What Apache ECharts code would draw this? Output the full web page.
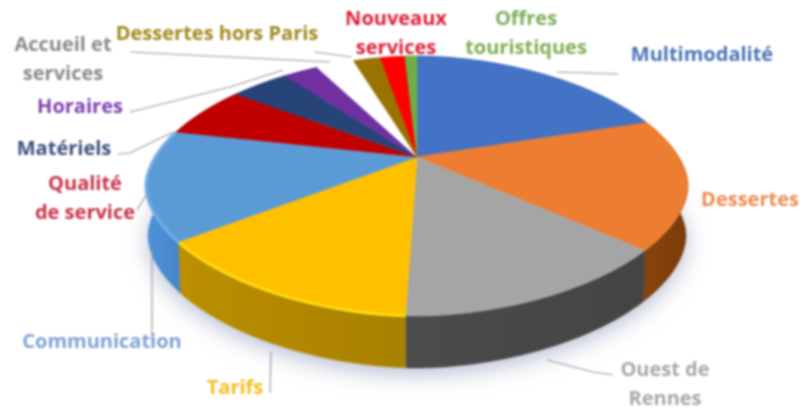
<!DOCTYPE html>
<html>
<head>
<meta charset="utf-8">
<style>
  html, body { margin: 0; padding: 0; background: #fff; }
  /* the reference is a soft, upscaled screenshot */
  #chart { width: 808px; height: 419px; filter: blur(0.8px); }
</style>
<script src="https://cdn.jsdelivr.net/npm/echarts@6/dist/echarts.min.js"></script>
</head>
<body>
<div id="chart"></div>
<script>
// data, clockwise from 12 o'clock
const categories = ['Multimodalité', 'Dessertes', 'Ouest de\nRennes', 'Tarifs', 'Communication', 'Qualité\nde service',
  'Matériels', 'Horaires', 'Accueil et\nservices', 'Dessertes hors Paris', 'Nouveaux\nservices', 'Offres\ntouristiques']
const shares = [16.4, 17.4, 17.1, 16.6, 14.9, 5.6, 3.5, 2.1, 2.3, 1.7, 1.6, 0.9]

const sliceColors = ['#4472c4', '#ed7d31', '#a5a5a5', '#ffc000', '#5b9bd5', '#c00000', '#264478', '#7030a0', '#ffffff', '#997300', '#ff0000', '#70ad47']
const wallColors = ['#2f5597', '#7a3c0a', '#444444', '#a88000', '#4585c6', '#8a0000', '#1a2f55', '#4f2272', '#ffffff', '#6b5000', '#b00000', '#4e7a32']
const bevelColors = [null, null, null, '#ffdc10', '#74aee6', null, null, null, null, null, null, null]
const labelColors = ['#4a72b8', '#ee8a50', '#a8a8ac', '#f5bf20', '#7fa3d4', '#c8324a', '#3f4f7c', '#8040b0', '#8a8a8a', '#a08a20', '#e0203a', '#7fae58']

// label centres and leader lines, same order as categories
const labelAt = [[702, 55], [750, 200], [665, 385], [235, 388], [102, 342], [85, 199], [64, 149], [80, 107], [63, 60], [217, 34], [396, 34], [526, 34]]
const leaders = [
  [[618, 74], [557, 72]],
  null,
  [[613, 375], [593, 372], [547, 360]],
  [[270, 393], [271, 352]],
  [[152, 340], [152, 250]],
  [[137, 210], [146, 195]],
  [[118, 154], [130, 153], [173, 132]],
  [[130, 112], [230, 87], [283, 70]],
  [[130, 52], [330, 62]],
  [[315, 52], [352, 57]],
  null,
  null
]

// pie geometry
const apex = [417, 157]
const top_ = { cx: 417, cy: 186, rx: 271, ry: 130 }
const bottom = { cx: 417, cy: 236, rx: 269, ry: 132 }
const SQUARENESS = 1.08

const total = shares.reduce((a, b) => a + b, 0)
const startAngles = []
shares.reduce((acc, v, i) => {
  startAngles[i] = acc
  return acc + v / total * Math.PI * 2
}, 0)

function rimPoint (e, t) {
  const s = Math.sin(t)
  const c = Math.cos(t)
  return [
    e.cx + e.rx * Math.sign(s) * Math.pow(Math.abs(s), SQUARENESS),
    e.cy - e.ry * Math.sign(c) * Math.pow(Math.abs(c), SQUARENESS)
  ]
}

function arc (e, t0, t1) {
  const pts = []
  const n = Math.max(4, Math.ceil((t1 - t0) / 0.02))
  for (let i = 0; i <= n; i++) {
    pts.push(rimPoint(e, t0 + (t1 - t0) * i / n))
  }
  return pts
}

function sliceRange (i, value) {
  const t0 = startAngles[i]
  return [t0, t0 + value / total * Math.PI * 2]
}

function renderWall (params, api) {
  const i = params.dataIndex
  const r = sliceRange(i, api.value(0))
  const children = []
  if (i === 0) {
    // soft shadow under the whole pie
    children.push({
      type: 'polygon',
      shape: { points: arc(bottom, 0, Math.PI * 2) },
      style: { fill: '#fff', shadowBlur: 22, shadowColor: 'rgba(110,125,165,0.5)', shadowOffsetY: 6 }
    })
  }
  if (sliceColors[i] !== '#ffffff') {
    const wall = wallColors[i]
    children.push({
      type: 'polygon',
      shape: { points: arc(top_, r[0], r[1]).concat(arc(bottom, r[0], r[1]).reverse()) },
      style: {
        fill: new echarts.graphic.LinearGradient(0, 0, 1, 0, [
          { offset: 0, color: echarts.color.lift(wall, -0.12) },
          { offset: 1, color: wall }
        ]),
        stroke: wall,
        lineWidth: 0.5
      }
    })
  }
  return { type: 'group', children: children }
}

function renderTop (params, api) {
  const i = params.dataIndex
  const r = sliceRange(i, api.value(0))
  const rim = arc(top_, r[0], r[1])
  const children = [{
    type: 'polygon',
    shape: { points: [apex].concat(rim) },
    style: { fill: sliceColors[i], stroke: sliceColors[i], lineWidth: 0.5 }
  }]
  // lit bevel along the rim
  if (bevelColors[i]) {
    children.push({
      type: 'polyline',
      shape: { points: rim },
      style: { fill: null, stroke: bevelColors[i], lineWidth: 3 }
    })
  }
  return { type: 'group', children: children }
}

const labelGraphics = categories.map((name, i) => ({
  type: 'text',
  z: 20,
  x: labelAt[i][0],
  y: labelAt[i][1],
  style: {
    text: name,
    fill: labelColors[i],
    font: 'bold 20px "Open Sans"',
    lineHeight: 29,
    align: 'center',
    verticalAlign: 'middle'
  }
}))

const leaderGraphics = leaders.filter(Boolean).map(points => ({
  type: 'polyline',
  z: 19,
  shape: { points: points },
  style: { fill: null, stroke: '#9a9a9a', lineWidth: 1.2 }
}))

const rows = shares.map(v => [v])

const myChart = echarts.init(document.getElementById('chart'), null, { renderer: 'canvas' })
myChart.setOption({
  animation: false,
  backgroundColor: '#fff',
  graphic: leaderGraphics.concat(labelGraphics),
  series: [
    { type: 'custom', coordinateSystem: 'none', silent: true, z: 1, data: rows, renderItem: renderWall },
    { type: 'custom', coordinateSystem: 'none', silent: true, z: 2, data: rows, renderItem: renderTop }
  ]
})
</script>
</body>
</html>
